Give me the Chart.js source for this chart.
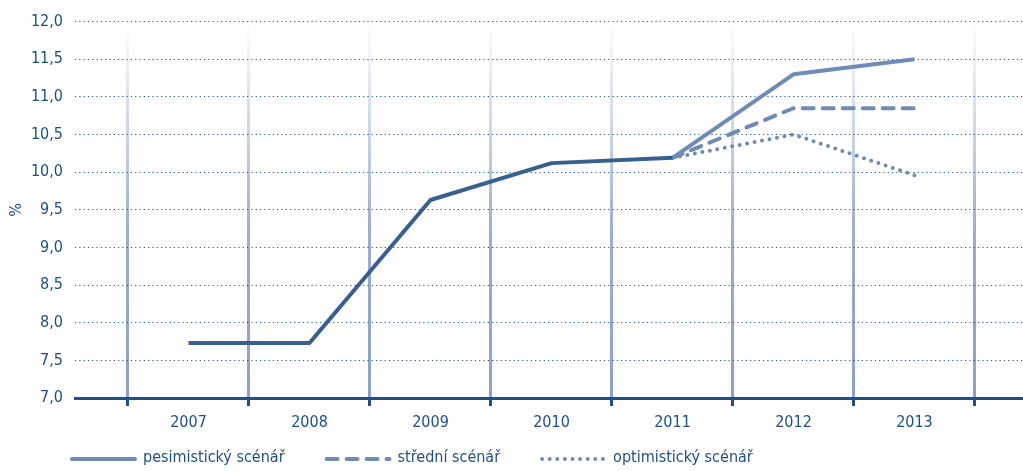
<!DOCTYPE html>
<html>
<head>
<meta charset="utf-8">
<script src="https://cdn.jsdelivr.net/npm/chart.js@4"></script>
<style>
  html, body { margin: 0; padding: 0; background: #fff; }
  #wrap { width: 1023px; height: 471px; }
</style>
</head>
<body>
<div id="wrap"><canvas id="lineChart"></canvas></div>
<script>
const years = [2007, 2008, 2009, 2010, 2011, 2012, 2013];
const pesimisticky = [7.73, 7.73, 9.63, 10.12, 10.19, 11.30, 11.50];
const stredni = [null, null, null, null, 10.19, 10.85, 10.85];
const optimisticky = [null, null, null, null, 10.19, 10.50, 9.96];
const yTicks = [7, 7.5, 8, 8.5, 9, 9.5, 10, 10.5, 11, 11.5, 12];
const legendNames = ["pesimistický scénář", "střední scénář", "optimistický scénář"];

const FONT = "'Liberation Sans Narrow', 'DejaVu Sans Condensed', 'Roboto', sans-serif";
const textColor = "#1f4f85";
const darkLine = "#37608f";
const lightLine = "#6f8bb6";

// history (dark) until 2011, scenarios from 2011 on
const toPoints = (vals, from, to) => years
    .map((yr, i) => ({ x: yr, y: vals[i] }))
    .filter(p => p.y !== null && p.x >= from && p.x <= to);

// x grid = category borders, labels = years
const xTicks = [];
years.forEach(yr => { xTicks.push(yr - 0.5); xTicks.push(yr); });
xTicks.push(years[years.length - 1] + 0.5);

let gridGrad = null;
function gridColor(ctx) {
    const chart = ctx.chart;
    const area = chart.chartArea;
    if (!area) return "#8ca1c7";
    if (!gridGrad) {
        gridGrad = chart.ctx.createLinearGradient(0, area.top, 0, area.bottom);
        gridGrad.addColorStop(0, "rgba(140,161,199,0)");
        gridGrad.addColorStop(0.05, "rgba(140,161,199,0.08)");
        gridGrad.addColorStop(0.55, "rgba(140,161,199,0.85)");
        gridGrad.addColorStop(1, "rgba(140,161,199,1)");
    }
    return gridGrad;
}

const legendPlugin = {
    id: "bottomLegend",
    afterDraw(chart) {
        const c = chart.ctx;
        const styles = [
            { color: lightLine, dash: [] },
            { color: lightLine, dash: [11, 9] },
            { color: lightLine, dash: [0, 7.6] }
        ];
        let x = 70;
        const y = 459;
        c.save();
        c.font = "16px " + FONT;
        c.textBaseline = "middle";
        legendNames.forEach((name, i) => {
            c.beginPath();
            c.lineWidth = 4;
            c.lineCap = "round";
            c.strokeStyle = styles[i].color;
            c.setLineDash(styles[i].dash);
            c.moveTo(x + 2, y);
            c.lineTo(x + 65, y);
            c.stroke();
            c.setLineDash([]);
            c.fillStyle = textColor;
            c.fillText(name, x + 73, y - 1);
            x += 73 + c.measureText(name).width + 40;
        });
        c.restore();
    }
};

const ctx = document.getElementById("lineChart").getContext("2d");

new Chart(ctx, {
    type: "line",
    data: {
        datasets: [
            {
                label: "history",
                data: toPoints(pesimisticky, 2007, 2011),
                borderColor: darkLine,
                borderWidth: 4,
                borderJoinStyle: "round"
            },
            {
                label: legendNames[0],
                data: toPoints(pesimisticky, 2011, 2013),
                borderColor: lightLine,
                borderWidth: 4,
                borderJoinStyle: "round"
            },
            {
                label: legendNames[1],
                data: toPoints(stredni, 2011, 2013),
                borderColor: lightLine,
                borderWidth: 4,
                borderDash: [11, 9],
                borderCapStyle: "round"
            },
            {
                label: legendNames[2],
                data: toPoints(optimisticky, 2011, 2013),
                borderColor: lightLine,
                borderWidth: 4,
                borderDash: [0, 7.6],
                borderCapStyle: "round"
            }
        ]
    },
    options: {
        responsive: true,
        maintainAspectRatio: false,
        animation: false,
        layout: { padding: { top: 21, right: 0, bottom: 33, left: 0 } },
        elements: { point: { radius: 0 }, line: { tension: 0 } },
        plugins: {
            legend: { display: false },
            tooltip: { enabled: false }
        },
        scales: {
            x: {
                type: "linear",
                min: 2006.062,
                max: 2013.897,
                afterBuildTicks: (scale) => {
                    scale.ticks = xTicks.map(v => ({ value: v }));
                },
                afterFit: (scale) => { scale.height = 40; },
                border: { color: textColor, width: 3 },
                grid: {
                    lineWidth: 3,
                    color: (c) => (c.tick && !Number.isInteger(c.tick.value)) ? gridColor(c) : "rgba(0,0,0,0)",
                    tickColor: (c) => (c.tick && !Number.isInteger(c.tick.value)) ? textColor : "rgba(0,0,0,0)",
                    tickLength: 8,
                    tickWidth: 3
                },
                ticks: {
                    autoSkip: false,
                    maxRotation: 0,
                    padding: 7,
                    color: textColor,
                    font: { family: FONT, size: 16 },
                    callback: (v) => Number.isInteger(v) ? String(v) : ""
                }
            },
            y: {
                min: 7,
                max: 12,
                afterBuildTicks: (scale) => {
                    scale.ticks = yTicks.map(v => ({ value: v }));
                },
                afterFit: (scale) => { scale.width = 75; },
                border: { display: false, dash: [1.2, 3.1] },
                grid: {
                    drawTicks: false,
                    lineWidth: 1,
                    color: (c) => (c.tick && c.tick.value === 7) ? "rgba(0,0,0,0)" : "#1f5796"
                },
                ticks: {
                    padding: 12,
                    color: textColor,
                    font: { family: FONT, size: 16 },
                    callback: (v) => v.toFixed(1).replace(".", ",")
                },
                title: {
                    display: true,
                    text: "%",
                    color: textColor,
                    font: { family: FONT, size: 16 },
                    padding: { top: 7, bottom: 0 }
                }
            }
        }
    },
    plugins: [legendPlugin]
});
</script>
</body>
</html>
